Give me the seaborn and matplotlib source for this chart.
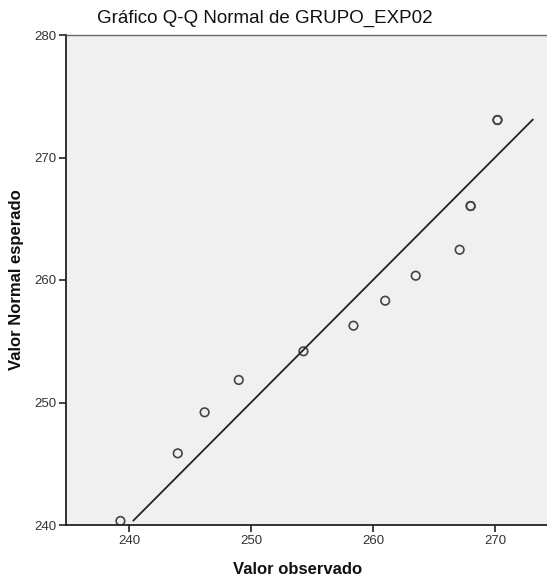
import matplotlib
matplotlib.use("Agg")
import matplotlib.pyplot as plt
import seaborn as sns
import pandas as pd

observed = [239.3, 244.0, 246.2, 249.0, 254.3, 258.4, 261.0, 263.5, 267.1, 268.0, 268.0, 270.2, 270.2]
expected = [240.33, 245.85, 249.2, 251.84, 254.18, 256.27, 258.31, 260.35, 262.47, 266.04, 266.04, 273.06, 273.06]
ref_line = [240.35, 273.1]
x_ticks = [240, 250, 260, 270]
y_ticks = [240, 250, 260, 270, 280]
title = "Gráfico Q-Q Normal de GRUPO_EXP02"
xlabel = "Valor observado"
ylabel = "Valor Normal esperado"

df = pd.DataFrame({"obs": observed, "exp": expected})
line_df = pd.DataFrame({"x": ref_line, "y": ref_line})

sns.set_style("white")
plt.rcParams['font.family'] = ['Liberation Sans', 'DejaVu Sans']

fig = plt.figure(figsize=(5.47, 5.78), dpi=100)
ax = fig.add_axes([66/547, 1-525/578, 1-66/547, (525-35)/578])
ax.set_facecolor("#f0f0f0")

sns.lineplot(data=line_df, x="x", y="y", ax=ax, color="#222222", linewidth=1.3)
sns.scatterplot(data=df, x="obs", y="exp", ax=ax, marker="o", s=38,
                facecolors="none", edgecolor="#444444", linewidth=1.2)

ax.set_xlim(234.84, 274.26)
ax.set_ylim(240, 280)
ax.set_xticks(x_ticks)
ax.set_yticks(y_ticks)
ax.tick_params(axis="both", bottom=True, left=True, direction="out", length=5, width=1.2,
               color="#222222", labelsize=9.5, labelcolor="#333333", pad=2)
for s in ["left", "bottom"]:
    ax.spines[s].set_color("#222222")
    ax.spines[s].set_linewidth(1.3)
ax.spines["top"].set_color("#666666")
ax.spines["top"].set_linewidth(1.0)
ax.spines["right"].set_visible(False)

ax.set_xlabel(xlabel, fontsize=12, fontweight="bold", color="#111111", labelpad=10)
ax.xaxis.set_label_coords((298-66)/(547-66), -45/490)
ax.set_ylabel(ylabel, fontsize=12, fontweight="bold", color="#111111")
ax.yaxis.set_label_coords(-(66-17)/(547-66), 0.5)
ax.yaxis.label.set_va("center")
ax.xaxis.label.set_va("center")
fig.text(264.5/547, 1-18/578, title, ha="center", va="center", fontsize=13.5, color="#111111")

fig.savefig("out.png", dpi=100, facecolor="white")
